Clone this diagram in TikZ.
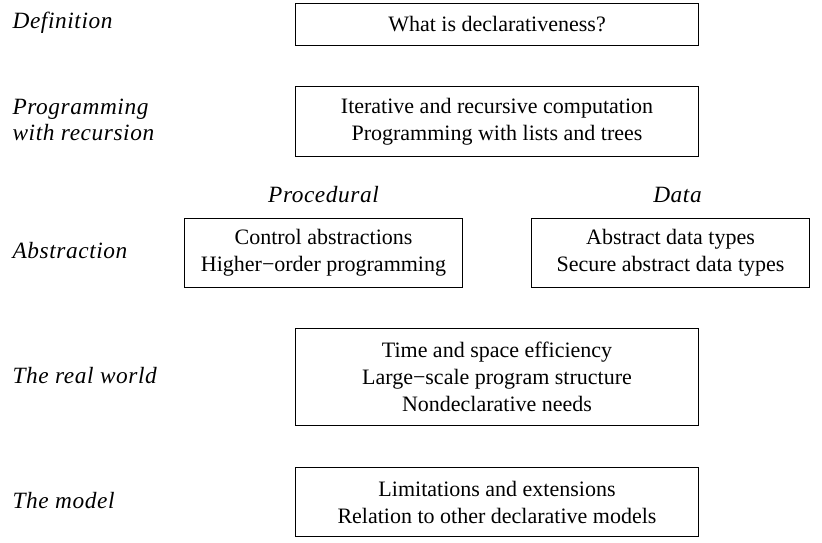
\documentclass[tikz,border=0pt]{standalone}
\usepackage{fontspec}
\setmainfont{Liberation Serif}
\newfontfamily\labelfont[LetterSpace=2.5]{Liberation Serif}

\tikzset{every picture/.style={line width=0.9pt}}
\tikzset{
  topicbox/.style={draw, align=center, inner sep=0pt,
    font=\fontsize{16.5}{20.25}\selectfont},
  sidelabel/.style={anchor=west, align=left, inner sep=0pt,
    font=\labelfont\itshape\fontsize{17.5}{19.5}\selectfont},
  headlabel/.style={inner sep=0pt, font=\labelfont\itshape\fontsize{17.5}{19.5}\selectfont}
}

\begin{document}
\begin{tikzpicture}[x=0.75pt,y=0.75pt,yscale=-1,xscale=1]
		\useasboundingbox (0,0) rectangle (822,543);

		%boxes
		\node [topicbox, minimum width=302.25pt, minimum height=31.5pt] (defbox) at (497,24.5) {What is declarativeness?};
		\node [topicbox, minimum width=302.25pt, minimum height=52.1pt] (recbox) at (497,121.5) {Iterative and recursive computation\\Programming with lists and trees};
		\node [topicbox, minimum width=208.5pt, minimum height=51.75pt] (procbox) at (323.5,253) {Control abstractions\\Higher−order programming};
		\node [topicbox, minimum width=208.5pt, minimum height=51.75pt] (databox) at (670.5,253) {Abstract data types\\Secure abstract data types};
		\node [topicbox, minimum width=302.25pt, minimum height=72.75pt] (realbox) at (497,377) {Time and space efficiency\\Large−scale program structure\\Nondeclarative needs};
		\node [topicbox, minimum width=302.25pt, minimum height=51.75pt] (modelbox) at (497,502) {Limitations and extensions\\Relation to other declarative models};

		%column heads
		\node [headlabel] (prochead) at (323.5,195) {Procedural};
		\node [headlabel] (datahead) at (677.5,195) {Data};

		%side labels
		\node [sidelabel] (deflabel) at (12,23) {Definition};
		\node [sidelabel] (reclabel) at (12,120) {Programming\\with recursion};
		\node [sidelabel] (abslabel) at (12,251) {Abstraction};
		\node [sidelabel] (reallabel) at (12,376) {The real world};
		\node [sidelabel] (modellabel) at (12,501) {The model};
\end{tikzpicture}
\end{document}
